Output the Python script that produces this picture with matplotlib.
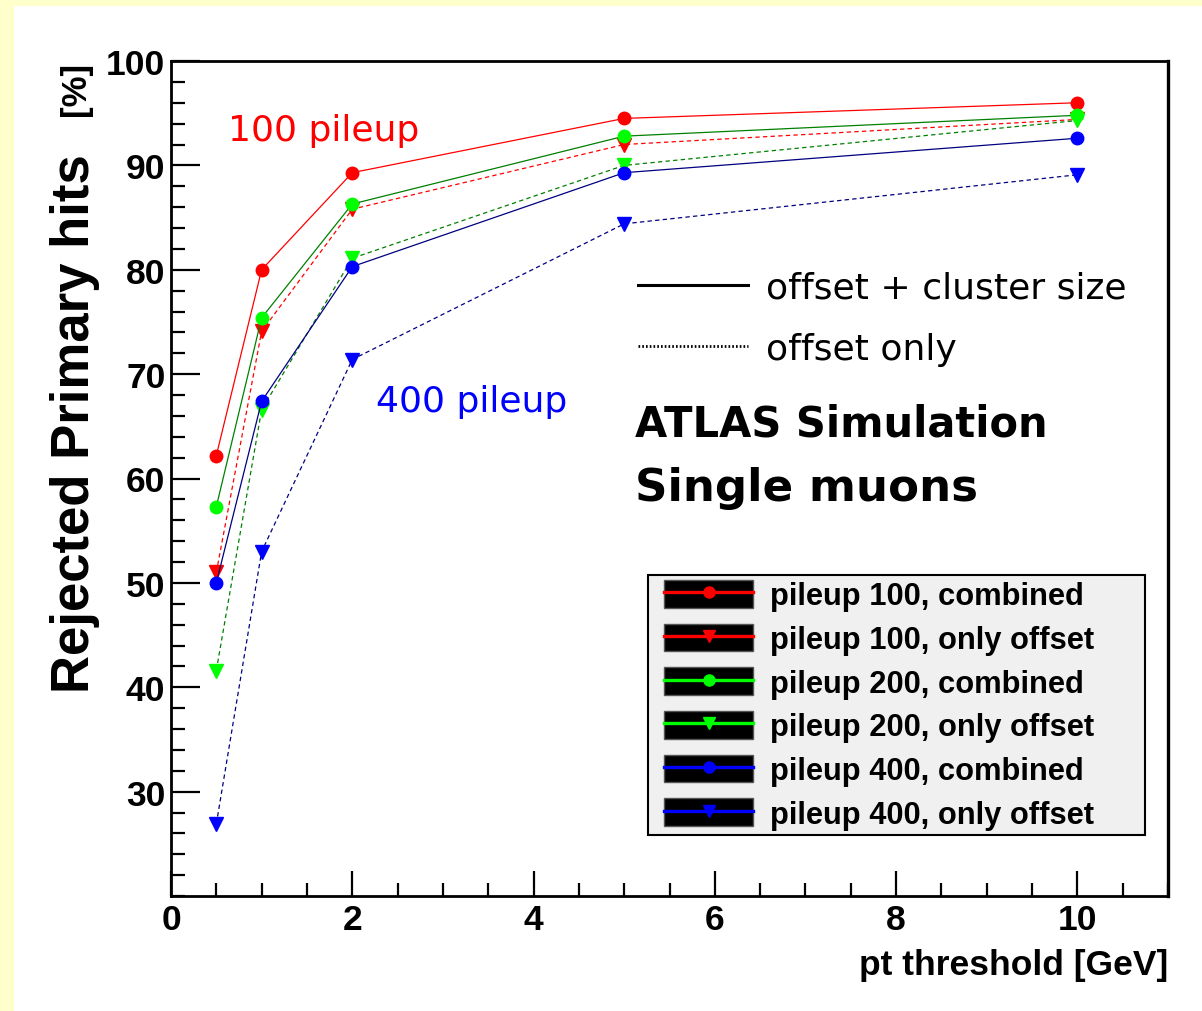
import matplotlib
matplotlib.use("Agg")
import matplotlib.pyplot as plt
from matplotlib.legend_handler import HandlerTuple
from matplotlib.lines import Line2D
from matplotlib.patches import Patch, Rectangle
from matplotlib.ticker import MultipleLocator

plt.rcParams["font.family"] = ["Liberation Sans", "DejaVu Sans"]

pt_threshold = [0.5, 1, 2, 5, 10]

pu100_combined = [62.2, 80.0, 89.3, 94.5, 96.0]
pu100_offset = [51.0, 74.1, 85.8, 92.0, 94.4]
pu200_combined = [57.3, 75.4, 86.3, 92.8, 94.8]
pu200_offset = [41.6, 66.6, 81.1, 90.0, 94.3]
pu400_combined = [50.0, 67.4, 80.3, 89.3, 92.6]
pu400_offset = [26.9, 53.0, 71.4, 84.4, 89.1]

labels = [
    "pileup 100, combined",
    "pileup 100, only offset",
    "pileup 200, combined",
    "pileup 200, only offset",
    "pileup 400, combined",
    "pileup 400, only offset",
]

# (values, line colour, marker colour, marker, dashed?)
series = [
    (pu100_combined, "#ff0000", "#ff0000", "o", False),
    (pu100_offset, "#ff0000", "#ff0000", "v", True),
    (pu200_combined, "#008000", "#00ff00", "o", False),
    (pu200_offset, "#008000", "#00ff00", "v", True),
    (pu400_combined, "#000080", "#0000ff", "o", False),
    (pu400_offset, "#000080", "#0000ff", "v", True),
]
legend_colors = ["#ff0000", "#ff0000", "#00ff00", "#00ff00", "#0000ff", "#0000ff"]

fig = plt.figure(figsize=(12.02, 10.12), dpi=100, facecolor="white")
# yellow slide border on the top and left
fig.patches.append(Rectangle((0, 1 - 7 / 1012), 1, 7 / 1012, transform=fig.transFigure,
                             facecolor="#ffffcc", edgecolor="none", zorder=0))
fig.patches.append(Rectangle((0, 0), 14 / 1202, 1, transform=fig.transFigure,
                             facecolor="#ffffcc", edgecolor="none", zorder=0))

ax = fig.add_axes([171 / 1202, 1 - 897 / 1012, 997 / 1202, 835 / 1012])

for values, lcol, mcol, marker, dashed in series:
    ax.plot(pt_threshold, values, color=lcol, lw=0.9,
            linestyle=(0, (3.5, 2.6)) if dashed else "-",
            marker=marker, markersize=9.5 if marker == "v" else 9,
            markerfacecolor=mcol, markeredgecolor=mcol)

ax.set_xlim(0, 11)
ax.set_ylim(20, 100)
ax.xaxis.set_major_locator(MultipleLocator(2))
ax.xaxis.set_minor_locator(MultipleLocator(0.5))
ax.yaxis.set_major_locator(MultipleLocator(10))
ax.yaxis.set_minor_locator(MultipleLocator(2))
ax.set_yticks(range(30, 101, 10))

ax.tick_params(axis="both", which="both", direction="in", top=False, right=False,
               width=1.6, labelsize=25.5)
ax.tick_params(axis="y", which="major", length=21, pad=4)
ax.tick_params(axis="y", which="minor", length=10)
ax.tick_params(axis="x", which="major", length=18, pad=5)
ax.tick_params(axis="x", which="minor", length=9.5)
for lab in ax.get_xticklabels() + ax.get_yticklabels():
    lab.set_fontweight("bold")
for sp in ax.spines.values():
    sp.set_linewidth(2)
ax.spines["right"].set_linewidth(2.4)

ax.set_xlabel("pt threshold [GeV]", fontsize=25.5, fontweight="bold", loc="right", labelpad=9)
ax.set_ylabel("Rejected Primary hits", fontsize=38, fontweight="bold", loc="top")
ax.yaxis.set_label_coords(-0.071, 0.889)
ax.text(-0.079, 1.0, "[%]", transform=ax.transAxes, rotation=90, fontsize=25,
        fontweight="bold", ha="right", va="bottom", rotation_mode="anchor")

ax.text(0.0572, 0.9054, "100 pileup", transform=ax.transAxes, color="#ff0000",
        fontsize=26, family="DejaVu Sans", va="baseline")
ax.text(0.2056, 0.5812, "400 pileup", transform=ax.transAxes, color="#0000ff",
        fontsize=26, family="DejaVu Sans", va="baseline")
ax.text(0.4654, 0.5513, "ATLAS Simulation", transform=ax.transAxes,
        fontsize=30, family="DejaVu Sans", fontweight="bold", va="baseline")
ax.text(0.4654, 0.4746, "Single muons", transform=ax.transAxes,
        fontsize=32.5, family="DejaVu Sans", fontweight="bold", va="baseline")

# line-style key
style_handles = [Line2D([], [], color="black", lw=2.2),
                 Line2D([], [], color="black", lw=2.0, linestyle=(0, (0.6, 0.75)))]
style_leg = ax.legend(style_handles, ["offset + cluster size", "offset only"],
                      loc="upper left", bbox_to_anchor=(0.4684, 0.749),
                      frameon=False, borderpad=0, borderaxespad=0,
                      handlelength=3.05, handletextpad=0.5, labelspacing=0.75,
                      prop={"family": "DejaVu Sans", "size": 26})
ax.add_artist(style_leg)

# series legend: coloured line on a black box
handles = []
for (values, lcol, mcol, marker, dashed), col in zip(series, legend_colors):
    handles.append((Patch(facecolor="black", edgecolor="#555555"),
                    Line2D([], [], color=col, lw=2.4, marker=marker,
                           markersize=8, markerfacecolor=col, markeredgecolor=col)))
ax.add_patch(Rectangle(((648 - 171) / 997, (897 - 836) / 835), 497 / 997, 260 / 835,
                       transform=ax.transAxes, facecolor="#f0f0f0",
                       edgecolor="black", lw=1.5, zorder=4))
leg = ax.legend(handles, labels, handler_map={tuple: HandlerTuple(ndivide=1, pad=0)},
                loc="upper left", bbox_to_anchor=((664 - 171) / 997, (897 - 581) / 835),
                frameon=False, borderpad=0, borderaxespad=0, numpoints=1,
                handlelength=2.9, handleheight=1.0, handletextpad=0.55,
                labelspacing=0.4, prop={"weight": "bold", "size": 22.2})
leg.set_zorder(5)

fig.savefig("out.png", dpi=100, facecolor=fig.get_facecolor())
